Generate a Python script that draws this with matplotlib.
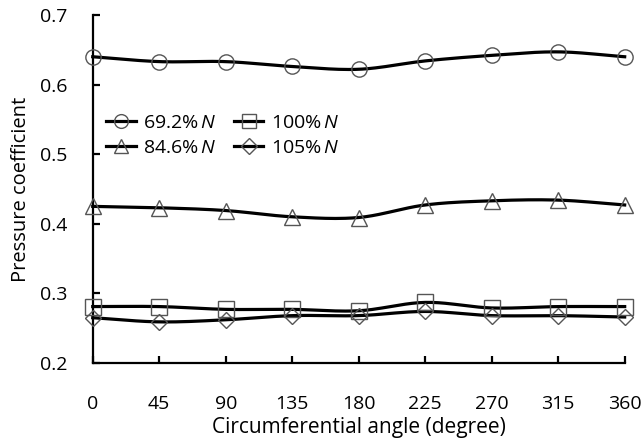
import numpy as np
import matplotlib
matplotlib.use("Agg")
import matplotlib.pyplot as plt
from matplotlib.lines import Line2D

plt.rcParams['font.family'] = ['Open Sans', 'DejaVu Sans']
plt.rcParams['mathtext.fontset'] = 'custom'
plt.rcParams['mathtext.it'] = 'Open Sans:italic'
plt.rcParams['mathtext.rm'] = 'Open Sans'

angles = [0, 45, 90, 135, 180, 225, 270, 315, 360]
s692 = [0.640, 0.633, 0.633, 0.626, 0.622, 0.634, 0.642, 0.647, 0.640]
s846 = [0.425, 0.423, 0.419, 0.410, 0.409, 0.427, 0.433, 0.434, 0.427]
s100 = [0.281, 0.281, 0.277, 0.277, 0.275, 0.287, 0.279, 0.281, 0.281]
s105 = [0.265, 0.259, 0.262, 0.268, 0.268, 0.274, 0.268, 0.268, 0.266]
labels = [r'69.2%$\,N$', r'84.6%$\,N$', r'100%$\,N$', r'105%$\,N$']
markers = ['o', '^', 's', 'D']
xticks = [0, 45, 90, 135, 180, 225, 270, 315, 360]
yticks = [0.2, 0.3, 0.4, 0.5, 0.6, 0.7]


def smooth(x, y, n=20):
    # Catmull-Rom style curve through the points (like spreadsheet smoothed lines)
    x = np.asarray(x, float); y = np.asarray(y, float)
    px = np.concatenate([[2 * x[0] - x[1]], x, [2 * x[-1] - x[-2]]])
    py = np.concatenate([[2 * y[0] - y[1]], y, [2 * y[-1] - y[-2]]])
    xs, ys = [], []
    t = np.linspace(0, 1, n, endpoint=False)
    for i in range(1, len(px) - 2):
        p0, p1, p2, p3 = py[i - 1], py[i], py[i + 1], py[i + 2]
        q0, q1, q2, q3 = px[i - 1], px[i], px[i + 1], px[i + 2]
        f = lambda a, b, c, d: 0.5 * (2 * b + (-a + c) * t + (2 * a - 5 * b + 4 * c - d) * t ** 2 + (-a + 3 * b - 3 * c + d) * t ** 3)
        xs.append(f(q0, q1, q2, q3)); ys.append(f(p0, p1, p2, p3))
    xs.append([x[-1]]); ys.append([y[-1]])
    return np.concatenate(xs), np.concatenate(ys)


fig = plt.figure(figsize=(6.44, 4.41), dpi=100)
ax = fig.add_axes([0.144, 0.177, 0.826, 0.789])

msz = [11, 11, 11, 8.5]
handles = []
for ys, mk, lab, ms in zip([s692, s846, s100, s105], markers, labels, msz):
    sx, sy = smooth(angles, ys)
    ax.plot(sx, sy, color='black', lw=2.3, zorder=3, clip_on=False)
    ax.plot(angles, ys, linestyle='none', marker=mk, markersize=ms,
            markerfacecolor='none', markeredgecolor='#555555', markeredgewidth=1.0,
            zorder=4, clip_on=False)
    handles.append(Line2D([], [], color='black', lw=2.3, marker=mk, markersize=ms * 0.9,
                          markerfacecolor='none', markeredgecolor='#555555',
                          markeredgewidth=1.0))

ax.set_xlim(0, 360)
ax.set_ylim(0.2, 0.7)
ax.set_xticks(xticks)
ax.set_yticks(yticks)
ax.set_yticklabels([f'{v:.1f}' for v in yticks])
for s in ['top', 'right']:
    ax.spines[s].set_visible(False)
for s in ['left', 'bottom']:
    ax.spines[s].set_linewidth(1.6)
ax.tick_params(axis='both', direction='in', length=5, width=1.6, labelsize=14, colors='black')
ax.tick_params(axis='x', pad=23)
ax.tick_params(axis='y', pad=18)
ax.set_xlabel('Circumferential angle (degree)', fontsize=15, labelpad=3)
ax.set_ylabel('Pressure coefficient', fontsize=14.5, labelpad=7)

ax.legend(handles, labels, ncol=2, frameon=False, fontsize=14,
          loc='upper left', bbox_to_anchor=(0.0, 0.755), handlelength=1.5,
          handletextpad=0.4, columnspacing=0.9, labelspacing=0.35, borderaxespad=0.3)

fig.savefig('out.png', dpi=100)
